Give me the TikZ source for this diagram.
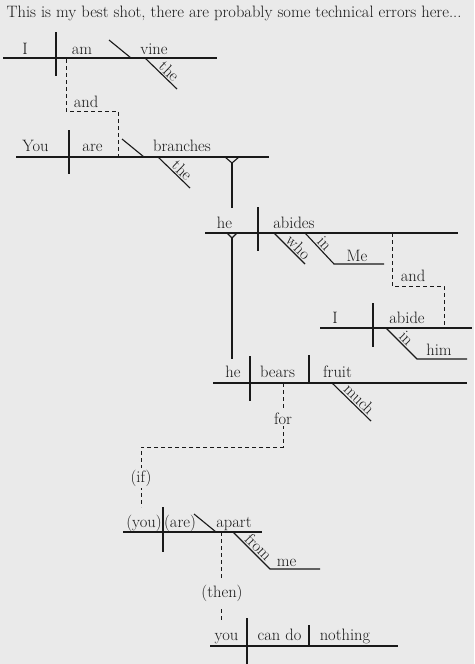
\documentclass[tikz,border=0pt]{standalone}
\usepackage{fontspec}
\definecolor{bgc}{RGB}{234,234,234}
\definecolor{ink}{RGB}{25,25,25}
\begin{document}
\begin{tikzpicture}[x=1pt,y=-1pt,
  ln/.style={draw=ink, line width=1.1pt},
  dsh/.style={draw=ink, line width=1pt, dash pattern=on 4pt off 3pt},
  w/.style={font=\fontsize{16.5}{19}\selectfont, text=ink, inner sep=0pt, anchor=base},
  sl/.style={font=\fontsize{16.5}{19}\selectfont, text=ink, inner sep=1.2pt, sloped, above, pos=0.55},
  gapnode/.style={w, fill=bgc, inner sep=2pt}]
\fill[bgc] (0,0) rectangle (474,664);
\useasboundingbox (0,0) rectangle (474,664);

\node[w] (title) at (234,17) {This is my best shot, there are probably some technical errors here...};

% ---- line 1: I am vine
\coordinate (l1a) at (3,58); \coordinate (l1b) at (217,58);
\coordinate (d1a) at (56,32); \coordinate (d1b) at (56,76);
\coordinate (p1a) at (109,40); \coordinate (p1b) at (131,58);
\coordinate (m1a) at (145,58); \coordinate (m1b) at (177,89);
\draw[ln] (l1a) -- (l1b);
\draw[ln] (d1a) -- (d1b);
\draw[ln] (p1a) -- (p1b);
\draw[ln] (m1a) -- node[sl, pos=0.6] (the1) {the} (m1b);
\node[w] (I1) at (25,54) {I};
\node[w] (am) at (82,54) {am};
\node[w] (vine) at (154,54) {vine};

% ---- and 1
\coordinate (c1a) at (66,59); \coordinate (c1b) at (66,111);
\coordinate (c1c) at (118,111); \coordinate (c1d) at (118,157);
\draw[dsh] (c1a) -- (c1b) -- (c1c) -- (c1d);
\node[w] (and1) at (86,107) {and};

% ---- line 2: You are branches
\coordinate (l2a) at (16,157); \coordinate (l2b) at (269,157);
\coordinate (d2a) at (69,130); \coordinate (d2b) at (69,174);
\coordinate (p2a) at (122,139); \coordinate (p2b) at (144,157);
\coordinate (m2a) at (158,157); \coordinate (m2b) at (190,188);
\draw[ln] (l2a) -- (l2b);
\draw[ln] (d2a) -- (d2b);
\draw[ln] (p2a) -- (p2b);
\draw[ln] (m2a) -- node[sl, pos=0.6] (the2) {the} (m2b);
\node[w] (You) at (35.5,151) {You};
\node[w] (are) at (92.5,151) {are};
\node[w] (branches) at (182,151) {branches};

% relative clause link 1
\coordinate (v1a) at (225,157); \coordinate (v1b) at (232,163); \coordinate (v1c) at (239,157);
\coordinate (v1d) at (232,208);
\draw[ln, line join=miter] (v1a) -- (v1b) -- (v1c);
\draw[ln] (v1b) -- (v1d);

% ---- line 3: he abides
\coordinate (l3a) at (205,233); \coordinate (l3b) at (458,233);
\coordinate (d3a) at (258,207); \coordinate (d3b) at (258,251);
\coordinate (m3a) at (274,233); \coordinate (m3b) at (305,264);
\coordinate (q3a) at (305,233); \coordinate (q3b) at (334,264); \coordinate (q3c) at (384,264);
\draw[ln] (l3a) -- (l3b);
\draw[ln] (d3a) -- (d3b);
\draw[ln] (m3a) -- node[sl, pos=0.62] (who) {who} (m3b);
\draw[ln] (q3a) -- node[sl, pos=0.5] (in1) {in} (q3b) -- (q3c);
\node[w] (he1) at (224.5,228) {he};
\node[w] (abides) at (294,228) {abides};
\node[w] (Me) at (357,261) {Me};

% and 2
\coordinate (c2a) at (392,233); \coordinate (c2b) at (392,286);
\coordinate (c2c) at (444,286); \coordinate (c2d) at (444,328);
\draw[dsh] (c2a) -- (c2b) -- (c2c) -- (c2d);
\node[w] (and2) at (413,281) {and};

% ---- line 4: I abide
\coordinate (l4a) at (320,328); \coordinate (l4b) at (472,328);
\coordinate (d4a) at (373,303); \coordinate (d4b) at (373,347);
\coordinate (q4a) at (386,328); \coordinate (q4b) at (417,359); \coordinate (q4c) at (467,359);
\draw[ln] (l4a) -- (l4b);
\draw[ln] (d4a) -- (d4b);
\draw[ln] (q4a) -- node[sl, pos=0.5] (in2) {in} (q4b) -- (q4c);
\node[w] (I2) at (335,323) {I};
\node[w] (abide) at (407,323) {abide};
\node[w] (him) at (439,355) {him};

% relative clause link 2
\coordinate (v2a) at (227,233); \coordinate (v2b) at (232,238); \coordinate (v2c) at (237,233);
\coordinate (v2d) at (232,359);
\draw[ln, line join=miter] (v2a) -- (v2b) -- (v2c);
\draw[ln] (v2b) -- (v2d);

% ---- line 5: he bears fruit
\coordinate (l5a) at (213,383); \coordinate (l5b) at (467,383);
\coordinate (d5a) at (250,356); \coordinate (d5b) at (250,401);
\coordinate (o5a) at (309,355); \coordinate (o5b) at (309,383);
\coordinate (m5a) at (332,383); \coordinate (m5b) at (371,421);
\draw[ln] (l5a) -- (l5b);
\draw[ln] (d5a) -- (d5b);
\draw[ln] (o5a) -- (o5b);
\draw[ln] (m5a) -- node[sl, pos=0.57] (much) {much} (m5b);
\node[w] (he2) at (233,377) {he};
\node[w] (bears) at (277.5,377) {bears};
\node[w] (fruit) at (337.5,377) {fruit};

% for / if
\coordinate (c3a) at (283,383); \coordinate (c3b) at (283,447);
\coordinate (c3c) at (141,447); \coordinate (c3d) at (141,507);
\draw[dsh] (c3a) -- (c3b) -- (c3c) -- (c3d);
\node[gapnode] (for) at (283,424) {for};
\node[gapnode] (if) at (141,482) {(if)};

% ---- line 6: (you) (are) apart
\coordinate (l6a) at (123,532); \coordinate (l6b) at (262,532);
\coordinate (d6a) at (163,507); \coordinate (d6b) at (163,552);
\coordinate (p6a) at (194,514); \coordinate (p6b) at (216,532);
\coordinate (q6a) at (233,532); \coordinate (q6b) at (270,569); \coordinate (q6c) at (320,569);
\draw[ln] (l6a) -- (l6b);
\draw[ln] (d6a) -- (d6b);
\draw[ln] (p6a) -- (p6b);
\draw[ln] (q6a) -- node[sl, pos=0.55] (from) {from} (q6b) -- (q6c);
\node[w] (you1) at (144,527) {(you)};
\node[w] (are2) at (180,527) {(are)};
\node[w] (apart) at (234,527) {apart};
\node[w] (me) at (286.5,566) {me};

% then
\coordinate (c4a) at (221,532); \coordinate (c4b) at (221,620);
\draw[dsh] (c4a) -- (c4b);
\node[gapnode, inner ysep=5pt] (then) at (222,597) {(then)};

% ---- line 7: you can do nothing
\coordinate (l7a) at (210,646); \coordinate (l7b) at (398,646);
\coordinate (d7a) at (247,618); \coordinate (d7b) at (247,664);
\coordinate (o7a) at (309,625); \coordinate (o7b) at (309,646);
\draw[ln] (l7a) -- (l7b);
\draw[ln] (d7a) -- (d7b);
\draw[ln] (o7a) -- (o7b);
\node[w] (you2) at (226.5,640) {you};
\node[w] (cando) at (279.5,640) {can do};
\node[w] (nothing) at (345,640) {nothing};
\end{tikzpicture}
\end{document}
